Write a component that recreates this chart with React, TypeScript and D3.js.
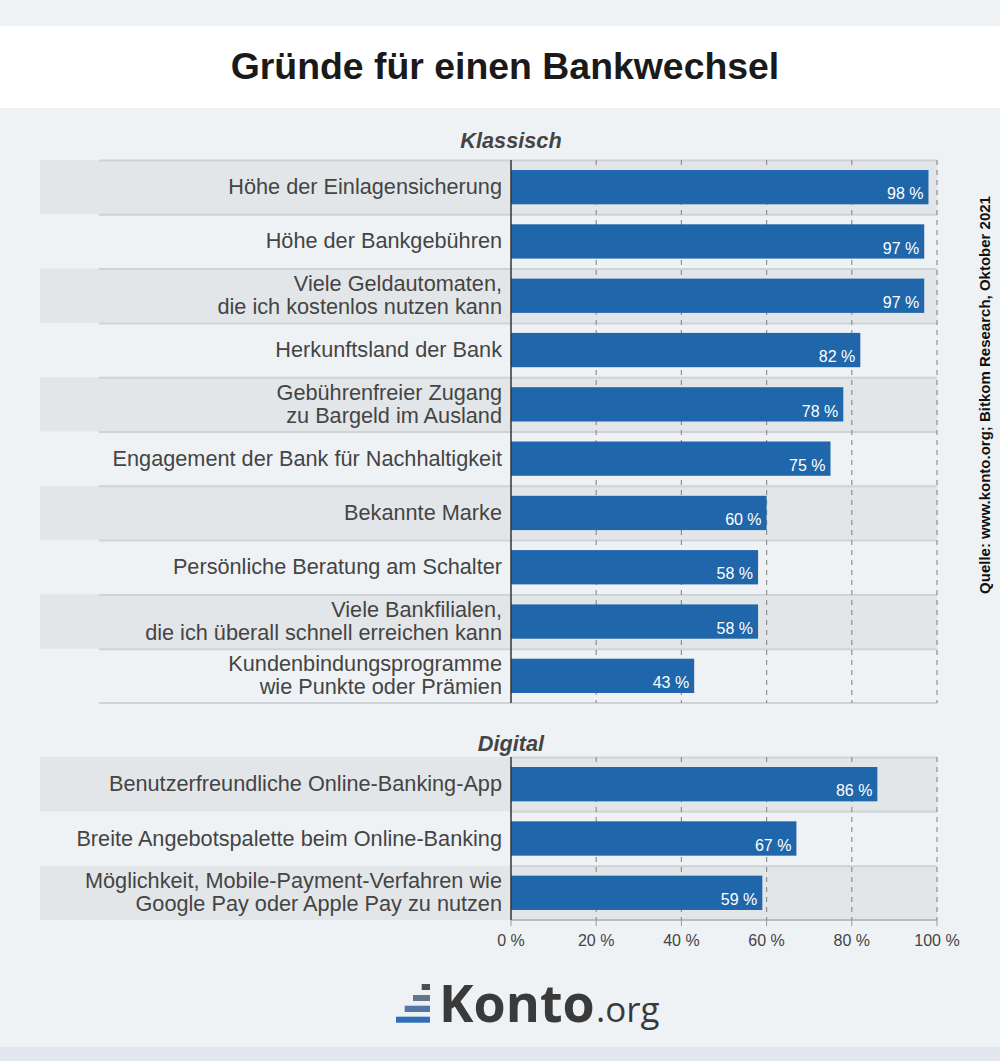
import React from "react";
import * as d3 from "d3";

const title = "Gründe für einen Bankwechsel";
const sectionKlassisch = "Klassisch";
const sectionDigital = "Digital";

const categoriesKlassisch: string[][] = [
  ["Höhe der Einlagensicherung"],
  ["Höhe der Bankgebühren"],
  ["Viele Geldautomaten,", "die ich kostenlos nutzen kann"],
  ["Herkunftsland der Bank"],
  ["Gebührenfreier Zugang", "zu Bargeld im Ausland"],
  ["Engagement der Bank für Nachhaltigkeit"],
  ["Bekannte Marke"],
  ["Persönliche Beratung am Schalter"],
  ["Viele Bankfilialen,", "die ich überall schnell erreichen kann"],
  ["Kundenbindungsprogramme", "wie Punkte oder Prämien"],
];
const valuesKlassisch: number[] = [98, 97, 97, 82, 78, 75, 60, 58, 58, 43];

const categoriesDigital: string[][] = [
  ["Benutzerfreundliche Online-Banking-App"],
  ["Breite Angebotspalette beim Online-Banking"],
  ["Möglichkeit, Mobile-Payment-Verfahren wie", "Google Pay oder Apple Pay zu nutzen"],
];
const valuesDigital: number[] = [86, 67, 59];

const tickValues: number[] = [0, 20, 40, 60, 80, 100];
const sourceText = "Quelle: www.konto.org; Bitkom Research, Oktober 2021";

const W = 1000;
const H = 1061;
const BG = "#eff2f5";
const BAND = "#e3e6e8";
const SEP = "#cfd3d7";
const BAR = "#1f67aa";
const TXT = "#444444";
const FONT = "'Liberation Sans', Arial, Helvetica, sans-serif";

const x = d3.scaleLinear().domain([0, 100]).range([511, 937]);

function Section(props: {
  cats: string[][];
  vals: number[];
  y0: number;
  y1: number;
  title: string;
  titleY: number;
  sepLeft: number | null;
  bottomAxis: boolean;
}) {
  const { cats, vals, y0, y1, sepLeft } = props;
  const y = d3
    .scaleBand<number>()
    .domain(d3.range(cats.length))
    .range([y0, y1])
    .paddingInner(0)
    .paddingOuter(0);
  const bw = y.bandwidth();
  const inset = 10;
  return (
    <g>
      <text
        x={511}
        y={props.titleY}
        textAnchor="middle"
        fontFamily={FONT}
        fontWeight="bold"
        fontStyle="italic"
        fontSize={21.7}
        fill={TXT}
      >
        {props.title}
      </text>
      {cats.map((c, i) =>
        i % 2 === 0 ? (
          <rect key={"band" + i} x={40} y={y(i)!} width={937 - 40} height={bw} fill={BAND} />
        ) : null
      )}
      {cats.map((c, i) => (
        <line
          key={"sep" + i}
          x1={sepLeft === null ? 511 : sepLeft}
          x2={937}
          y1={y(i)! + 0.5}
          y2={y(i)! + 0.5}
          stroke={SEP}
          strokeWidth={2}
        />
      ))}
      <line
        x1={sepLeft === null ? 511 : sepLeft}
        x2={937}
        y1={y1}
        y2={y1}
        stroke={props.bottomAxis ? "#b9bdc1" : SEP}
        strokeWidth={2}
      />
      {tickValues.slice(1).map((t) => (
        <line
          key={"g" + t}
          x1={x(t)}
          x2={x(t)}
          y1={y0}
          y2={y1}
          stroke="#8f8f8f"
          strokeWidth={1.2}
          strokeDasharray="5,5"
        />
      ))}
      {vals.map((v, i) => (
        <rect
          key={"bar" + i}
          x={x(0)}
          y={y(i)! + inset}
          width={x(v) - x(0)}
          height={bw - 2 * inset}
          fill={BAR}
        />
      ))}
      {vals.map((v, i) => (
        <text
          key={"val" + i}
          x={x(v) - 5}
          y={y(i)! + bw - inset - 5}
          textAnchor="end"
          fontFamily={FONT}
          fontSize={16}
          fill="#ffffff"
        >
          {v} %
        </text>
      ))}
      {cats.map((lines, i) => {
        const cy = y(i)! + bw / 2;
        const lh = 23;
        const start = cy + 7 - ((lines.length - 1) * lh) / 2;
        return (
          <text
            key={"lab" + i}
            textAnchor="end"
            fontFamily={FONT}
            fontSize={21.7}
            fill={TXT}
          >
            {lines.map((l, j) => (
              <tspan key={j} x={502} y={start + j * lh}>
                {l}
              </tspan>
            ))}
          </text>
        );
      })}
      <line x1={511} x2={511} y1={y0} y2={y1} stroke="#333" strokeWidth={1.5} />
    </g>
  );
}

export default function App() {
  return (
    <svg
      width={W}
      height={H}
      style={{ position: "absolute", left: 0, top: 0, display: "block" }}
    >
      <rect x={0} y={0} width={W} height={H} fill={BG} />
      <rect x={0} y={26} width={W} height={82} fill="#ffffff" />
      <rect x={0} y={1047} width={W} height={14} fill="#e2e6ee" />
      <text
        x={505}
        y={79}
        textAnchor="middle"
        fontFamily={FONT}
        fontWeight="bold"
        fontSize={37.4}
        fill="#1a1a1a"
      >
        {title}
      </text>

      <Section
        cats={categoriesKlassisch}
        vals={valuesKlassisch}
        y0={160}
        y1={703}
        title={sectionKlassisch}
        titleY={148}
        sepLeft={99}
        bottomAxis={false}
      />
      <Section
        cats={categoriesDigital}
        vals={valuesDigital}
        y0={757}
        y1={920}
        title={sectionDigital}
        titleY={751}
        sepLeft={null}
        bottomAxis={true}
      />

      {tickValues.map((t) => (
        <g key={"t" + t}>
          <line x1={x(t)} x2={x(t)} y1={920} y2={926} stroke="#999" strokeWidth={1} />
          <text
            x={x(t)}
            y={946}
            textAnchor="middle"
            fontFamily={FONT}
            fontSize={16}
            fill={TXT}
          >
            {t} %
          </text>
        </g>
      ))}

      <text
        transform={`translate(990, 395) rotate(-90)`}
        textAnchor="middle"
        fontFamily={FONT}
        fontWeight="bold"
        fontSize={15}
        fill="#111"
      >
        {sourceText}
      </text>

      <g>
        <rect x={421.7} y={984} width={8.3} height={6} fill="#4b4f55" />
        <rect x={413} y={995} width={17} height={6} fill="#66768a" />
        <rect x={404.7} y={1005.7} width={25.3} height={6.3} fill="#5377a6" />
        <rect x={396} y={1016.7} width={34} height={6} fill="#2f6fb6" />
        <text
          x={439}
          y={1022}
          fontFamily="'Open Sans', sans-serif"
          fontWeight="bold"
          fontSize={52}
          fill="#3a3a3a"
        >
          Konto
        </text>
        <text
          x={596}
          y={1022}
          fontFamily="'Open Sans', sans-serif"
          fontSize={35}
          fill="#3a3a3a"
        >
          .org
        </text>
      </g>
    </svg>
  );
}
